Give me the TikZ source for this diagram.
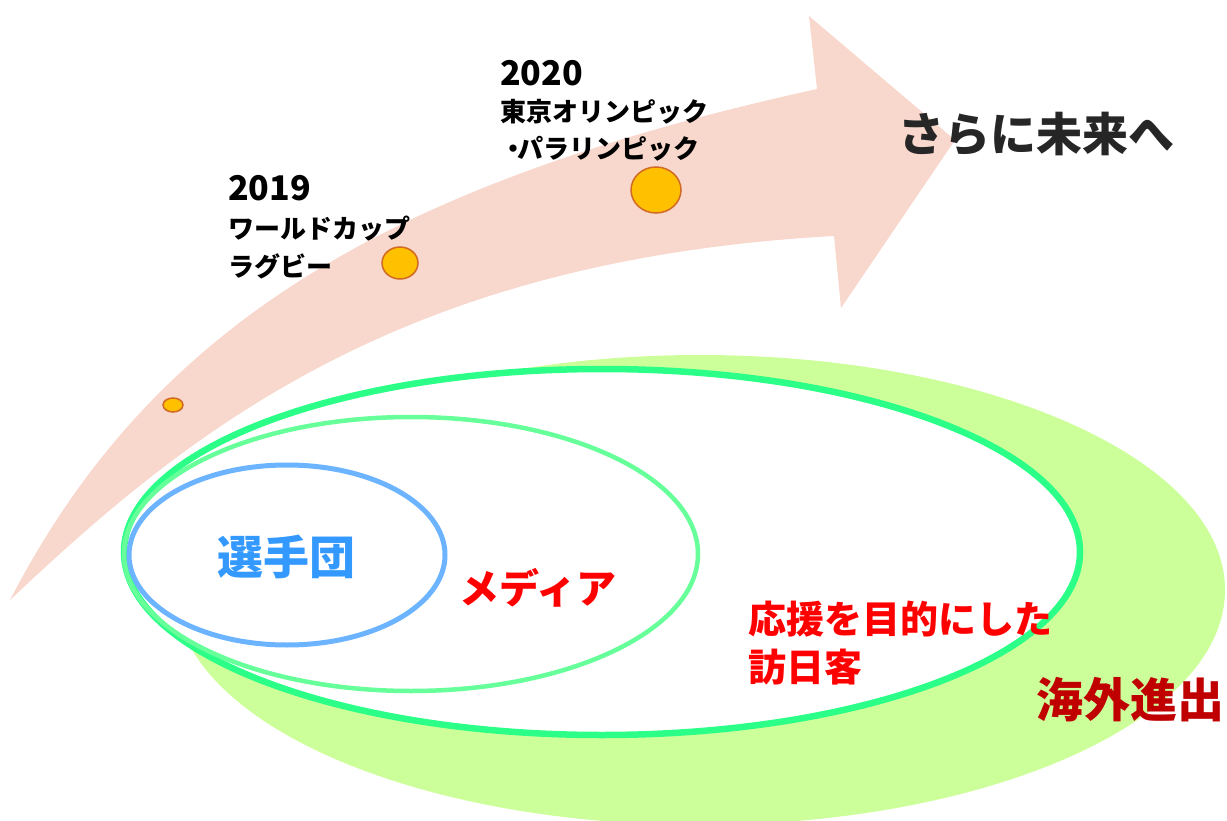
\documentclass[tikz,border=0pt]{standalone}
\usepackage{fontspec}
\setmainfont{Noto Sans CJK JP}
\definecolor{pinkc}{HTML}{F8D7CD}
\definecolor{lgreen}{HTML}{CCFF99}
\definecolor{green1}{HTML}{2CFF88}
\definecolor{green2}{HTML}{66FF99}
\definecolor{bluering}{HTML}{6CB4FF}
\definecolor{bluetext}{HTML}{3399FF}
\definecolor{darktext}{HTML}{262626}
\definecolor{darkred}{HTML}{C00000}
\definecolor{dotfill}{HTML}{FFC000}
\definecolor{dotline}{HTML}{D06A25}
\newcommand{\yearfont}{\fontsize{34}{38}\selectfont}
\tikzset{
  dot/.style={fill=dotfill,draw=dotline,line width=1.5pt},
  blk/.style={inner sep=0pt,outer sep=0pt,font=\bfseries},
}
\begin{document}
\begin{tikzpicture}[x=1pt,y=-1pt]
\useasboundingbox (0,0) rectangle (1227,821);
% arrow
\fill[pinkc] (10,600) .. controls (150,330) and (380,185) .. (817,89)
  -- (809,16) -- (955,140) -- (841,308) -- (834,236)
  .. controls (400,260) and (190,430) .. (10,600) -- cycle;
% ellipses
\fill[lgreen] (700,590) ellipse [x radius=525, y radius=235];
\draw[green1,line width=6.5pt,fill=white] (602,552) ellipse [x radius=478, y radius=183];
\draw[green2,line width=4.5pt] (411,554) ellipse [x radius=287, y radius=137];
\draw[bluering,line width=5pt] (287,555) ellipse [x radius=158, y radius=90];
% dots
\draw[dot] (173,405) ellipse [x radius=10, y radius=7];
\draw[dot] (400,263) ellipse [x radius=18, y radius=16];
\draw[dot] (656,190) ellipse [x radius=25, y radius=23];
% texts
\node[blk,anchor=north west,align=left,font=\fontsize{26}{38}\selectfont\bfseries] (t2019) at (228,175) {{\yearfont 2019}\\ワールドカップ\\ラグビー};
\node[blk,anchor=north west,align=left,font=\fontsize{26}{36.5}\selectfont\bfseries] (t2020) at (500,60) {{\yearfont 2020}\\東京オリンピック\\・\kern-9pt パラリンピック};
\node[blk,text=darktext,font=\fontsize{46}{50}\selectfont\bfseries] (future) at (1036,134) {さらに未来へ};
\node[blk,text=bluetext,font=\fontsize{46}{50}\selectfont\bfseries] (team) at (286,557) {選手団};
\node[blk,text=red,font=\fontsize{40}{44}\selectfont\bfseries] (media) at (538,588) {メディア};
\node[blk,anchor=north west,align=left,text=red,font=\fontsize{38}{48}\selectfont\bfseries] (visit) at (748,601) {応援を目的にした\\訪日客};
\node[blk,text=darkred,font=\fontsize{47}{50}\selectfont\bfseries] (abroad) at (1130,700) {海外進出};
\end{tikzpicture}
\end{document}
